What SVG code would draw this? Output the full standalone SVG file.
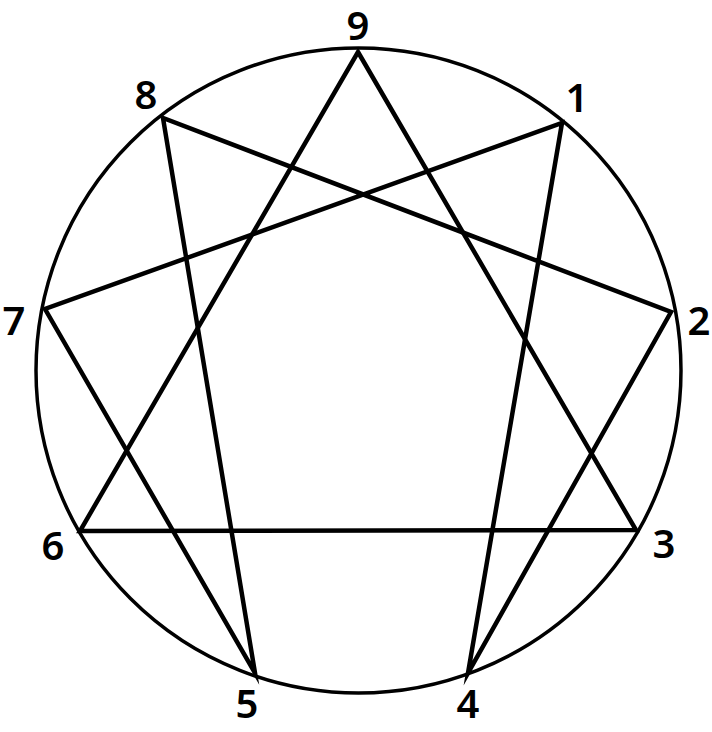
<svg xmlns="http://www.w3.org/2000/svg" width="712" height="732" viewBox="0 0 712 732">
<style>
.lbl{font-family:"Noto Sans","DejaVu Sans",sans-serif;font-size:40px;font-weight:600;fill:#000;text-anchor:middle}
.ln{fill:none;stroke:#000;stroke-width:4.5;stroke-linejoin:miter;stroke-miterlimit:20}
</style>
<rect width="712" height="732" fill="#fff"/>
<g id="circle"><circle cx="358.5" cy="370.5" r="322.5" fill="none" stroke="#000" stroke-width="3.5"/></g>
<g id="connectors">
<polygon class="ln" points="358,52 636,530 80,531"/>
<polygon class="ln" points="562,123 468,673 671,312 163,118 255,673 45,309"/>
</g>
<g id="n9"><text class="lbl" x="358" y="40">9</text></g>
<g id="n1"><text class="lbl" x="577" y="112">1</text></g>
<g id="n2"><text class="lbl" x="699" y="335">2</text></g>
<g id="n3"><text class="lbl" x="664" y="558">3</text></g>
<g id="n4"><text class="lbl" x="468" y="718">4</text></g>
<g id="n5"><text class="lbl" x="247" y="718">5</text></g>
<g id="n6"><text class="lbl" x="53" y="560">6</text></g>
<g id="n7"><text class="lbl" x="14" y="335">7</text></g>
<g id="n8"><text class="lbl" x="146" y="109">8</text></g>
</svg>
